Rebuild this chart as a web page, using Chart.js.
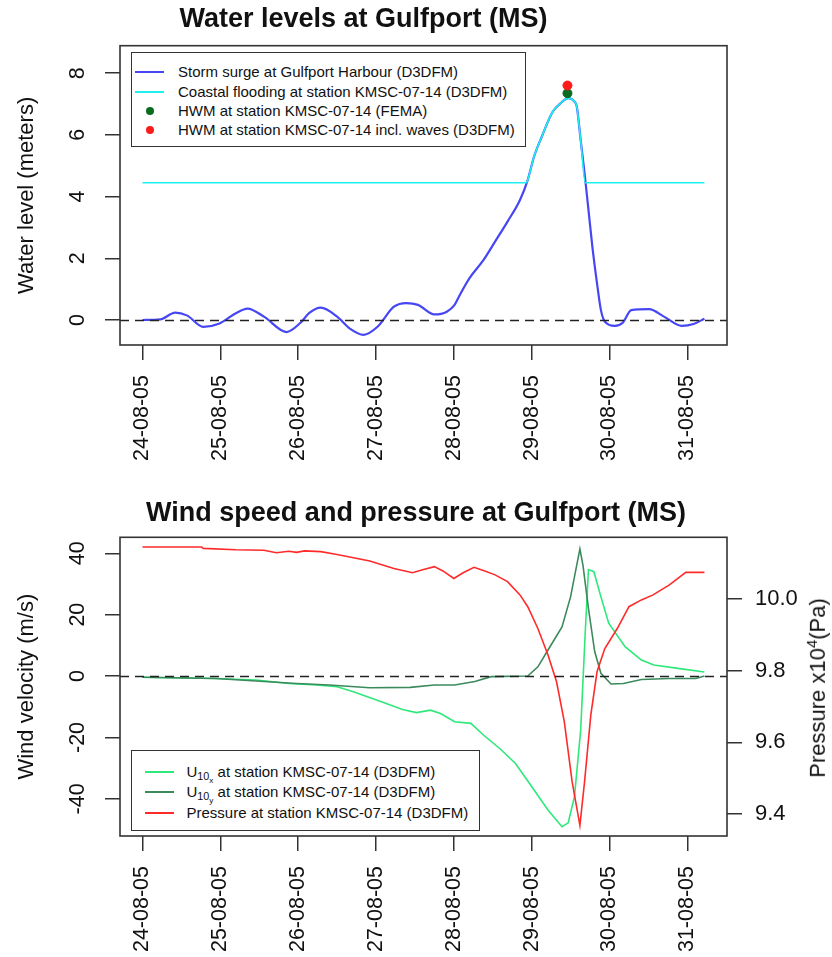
<!DOCTYPE html>
<html>
<head>
<meta charset="utf-8">
<title>Water levels and wind at Gulfport (MS)</title>
<script src="https://cdn.jsdelivr.net/npm/chart.js@4.4.1/dist/chart.umd.min.js"></script>
<style>
  body { margin: 0; background: #fff; font-family: "Liberation Sans", Arial, sans-serif; color: #111; }
  #page { position: relative; width: 832px; height: 957px; overflow: hidden; }
  .wrap { position: absolute; left: 0; width: 832px; }
  #wrapTop { top: 0; height: 478px; }
  #wrapBottom { top: 478px; height: 479px; }
  canvas { display: block; }
  .legend { position: absolute; background: #fff; border: 1.6px solid #333; box-sizing: border-box; font-size: 15px; }
  .legend .sample { position: absolute; height: 0; border-top: 2px solid; }
  .legend .dot { position: absolute; width: 8px; height: 8px; border-radius: 50%; }
  .legend .text { position: absolute; white-space: nowrap; line-height: 18px; }
  .legend sub { font-size: 0.72em; vertical-align: -0.3em; }
  .legend sub sub { font-size: 0.75em; vertical-align: -0.35em; }
  #pressureTitle { position: absolute; left: 817px; top: 688px; font-size: 22px; white-space: nowrap;
    transform: translate(-50%, -50%) rotate(-90deg); }
  #pressureTitle sup { font-size: 0.68em; vertical-align: 0.55em; }
</style>
</head>
<body>
<div id="page">
  <div class="wrap" id="wrapTop"><canvas id="levelsChart" width="832" height="478"></canvas></div>
  <div class="wrap" id="wrapBottom"><canvas id="windChart" width="832" height="479"></canvas></div>
  <div class="legend" id="legendTop" style="left:131px;top:52px;width:395px;height:95px"></div>
  <div class="legend" id="legendBottom" style="left:131px;top:750px;width:349px;height:81px"></div>
  <div id="pressureTitle">Pressure x10<sup>4</sup>(Pa)</div>
</div>
<script>
// Time axis: days since 24-08-05 00:00
const dateLabels = ['24-08-05', '25-08-05', '26-08-05', '27-08-05', '28-08-05', '29-08-05', '30-08-05', '31-08-05'];
const dayTicks = [0, 1, 2, 3, 4, 5, 6, 7];

// Top panel: water levels (m)
const levelTicks = [0, 2, 4, 6, 8];
const surgeDays = [0, 0.23, 0.42, 0.57, 0.78, 0.99, 1.2, 1.35, 1.56, 1.85, 2.03, 2.14, 2.29, 2.5, 2.66, 2.84,
  3.02, 3.23, 3.39, 3.54, 3.75, 3.91, 4.01, 4.07, 4.2, 4.38, 4.53, 4.69, 4.85, 4.95, 5.03, 5.13, 5.27, 5.37,
  5.47, 5.55, 5.58, 5.63, 5.68, 5.73, 5.78, 5.84, 5.89, 5.94, 6.07, 6.17, 6.28, 6.51, 6.7, 6.93, 7.08, 7.22];
const surgeLevels = [0, 0.02, 0.24, 0.15, -0.22, -0.11, 0.22, 0.37, 0.11, -0.39, -0.09, 0.22, 0.4, 0.11, -0.27, -0.48,
  -0.22, 0.43, 0.55, 0.49, 0.18, 0.27, 0.49, 0.78, 1.35, 1.94, 2.54, 3.19, 3.89, 4.54, 5.29, 5.94, 6.75, 7.02,
  7.19, 7.08, 6.92, 5.83, 4.75, 3.57, 2.38, 1.19, 0.32, -0.05, -0.19, -0.09, 0.32, 0.35, 0.11, -0.19, -0.13, 0.04];
const coastDays = [0, 4.93, 4.95, 5.03, 5.13, 5.27, 5.37, 5.47, 5.55, 5.58, 5.63, 5.69, 7.22];
const coastLevels = [4.45, 4.45, 4.54, 5.29, 5.94, 6.75, 7.02, 7.19, 7.08, 6.92, 5.83, 4.45, 4.45];
const hwmFemaDays = [5.46];
const hwmFemaLevels = [7.35];
const hwmWavesDays = [5.46];
const hwmWavesLevels = [7.6];

// Bottom panel: wind (m/s) and pressure (x10^4 Pa)
const windTicks = [-40, -20, 0, 20, 40];
const pressureTicks = [9.4, 9.6, 9.8, 10.0];
const u10xDays = [0, 0.94, 1.46, 1.88, 2.24, 2.5, 2.71, 3.07, 3.34, 3.52, 3.7, 3.83, 4.01, 4.22, 4.38, 4.59, 4.79,
  5.0, 5.21, 5.39, 5.47, 5.55, 5.63, 5.69, 5.73, 5.8, 5.89, 5.99, 6.2, 6.41, 6.57, 6.88, 7.22];
const u10x = [-0.4, -0.8, -1.3, -2.4, -2.9, -3.5, -5.1, -8.4, -10.9, -11.9, -11.1, -12.2, -14.9, -15.4, -19.2, -23.6, -28.4,
  -36, -43.6, -49.1, -47.8, -39.3, -17.6, 15, 34.7, 34, 25.8, 17.2, 9.6, 5.2, 3.6, 2.5, 1.3];
const u10yDays = [0, 0.94, 1.98, 2.4, 2.92, 3.44, 3.75, 4.01, 4.27, 4.48, 4.95, 5.08, 5.21, 5.39, 5.5, 5.62, 5.66,
  5.73, 5.81, 5.89, 6.02, 6.18, 6.41, 6.77, 7.11, 7.22];
const u10y = [-0.4, -0.8, -2.4, -2.9, -3.8, -3.7, -2.9, -2.9, -1.8, -0.2, 0, 3, 8.5, 16, 25.8, 41.4, 36,
  22, 8, 0.9, -2.6, -2.4, -1.1, -0.8, -0.8, 0];
const pressureDays = [0, 0.76, 0.78, 1.2, 1.56, 1.72, 1.88, 1.98, 2.08, 2.29, 2.5, 2.71, 2.92, 3.23, 3.47, 3.6, 3.75,
  3.86, 4.0, 4.12, 4.26, 4.38, 4.53, 4.69, 4.85, 4.95, 5.08, 5.21, 5.32, 5.42, 5.52, 5.62, 5.68, 5.76, 5.84, 5.94,
  6.1, 6.25, 6.41, 6.56, 6.77, 6.98, 7.22];
const pressure = [10.146, 10.146, 10.142, 10.138, 10.137, 10.130, 10.134, 10.131, 10.135, 10.133, 10.125, 10.116, 10.107,
  10.086, 10.074, 10.082, 10.091, 10.079, 10.058, 10.074, 10.089, 10.080, 10.068, 10.049, 10.012, 9.979, 9.918, 9.844,
  9.769, 9.657, 9.49, 9.368, 9.49, 9.676, 9.797, 9.862, 9.918, 9.979, 9.998, 10.012, 10.04, 10.075, 10.075];

const FONT = '"Liberation Sans", Arial, sans-serif';
const INK = '#111111';
const AXIS = '#333333';

const pts = (xs, ys) => xs.map((x, i) => ({ x, y: ys[i] }));

// Frame box, dashed zero line and rotated left tick labels (R style)
const rFrame = {
  id: 'rFrame',
  afterDatasetsDraw(chart, args, opts) {
    const { ctx, chartArea: a } = chart;
    const ys = chart.scales.y;
    ctx.save();
    ctx.strokeStyle = '#222';
    ctx.lineWidth = 1.6;
    ctx.setLineDash([9, 6]);
    const y0 = Math.round(ys.getPixelForValue(0)) + 0.5;
    ctx.beginPath();
    ctx.moveTo(a.left, y0);
    ctx.lineTo(a.right, y0);
    ctx.stroke();
    ctx.restore();
  },
  afterDraw(chart, args, opts) {
    const { ctx, chartArea: a } = chart;
    const ys = chart.scales.y;
    ctx.save();
    ctx.strokeStyle = AXIS;
    ctx.lineWidth = 1.6;
    ctx.strokeRect(a.left, a.top, a.right - a.left, a.bottom - a.top);
    ctx.fillStyle = INK;
    ctx.font = '21.5px ' + FONT;
    ctx.textAlign = 'center';
    ctx.textBaseline = 'middle';
    ys.ticks.forEach((t) => {
      ctx.save();
      ctx.translate(opts.labelX, ys.getPixelForValue(t.value));
      ctx.rotate(-Math.PI / 2);
      ctx.fillText(String(t.value), 0, 0);
      ctx.restore();
    });
    ctx.restore();
  }
};

function timeAxis(height) {
  return {
    type: 'linear',
    min: -0.289,
    max: 7.51,
    afterBuildTicks: (scale) => { scale.ticks = dayTicks.map((v) => ({ value: v })); },
    afterFit: (scale) => { scale.height = height; },
    grid: { drawOnChartArea: false, drawTicks: true, tickLength: 15, color: AXIS, lineWidth: 1.5 },
    border: { display: false },
    ticks: {
      minRotation: 90,
      maxRotation: 90,
      padding: 15,
      color: INK,
      font: { family: FONT, size: 21.5 },
      callback: (v) => dateLabels[v]
    }
  };
}

function leftAxis(min, max, tickValues, title) {
  return {
    type: 'linear',
    position: 'left',
    min,
    max,
    afterBuildTicks: (scale) => { scale.ticks = tickValues.map((v) => ({ value: v })); },
    afterFit: (scale) => { scale.width = 120; },
    grid: { drawOnChartArea: false, drawTicks: true, tickLength: 15, color: AXIS, lineWidth: 1.5 },
    border: { display: false },
    ticks: { display: false },
    title: {
      display: true,
      text: title,
      color: INK,
      font: { family: FONT, size: 22, lineHeight: 1.2 },
      padding: { top: 14, bottom: 0 }
    }
  };
}

function chartTitle(text, top, bottom) {
  return {
    display: true,
    text,
    color: INK,
    font: { family: FONT, size: 27, weight: 'bold', lineHeight: 1.2 },
    padding: { top, bottom }
  };
}

function lineSet(label, data, color, width, extra) {
  return Object.assign({
    type: 'line',
    label,
    data,
    borderColor: color,
    backgroundColor: color,
    borderWidth: width,
    pointRadius: 0,
    fill: false,
    tension: 0
  }, extra || {});
}

const levelsChart = new Chart(document.getElementById('levelsChart'), {
  type: 'line',
  data: {
    datasets: [
      lineSet('Storm surge at Gulfport Harbour (D3DFM)', pts(surgeDays, surgeLevels), '#4646f5', 2.2,
        { cubicInterpolationMode: 'monotone', order: 3 }),
      lineSet('Coastal flooding at station KMSC-07-14 (D3DFM)', pts(coastDays, coastLevels), '#1ef0f0', 1.6,
        { cubicInterpolationMode: 'monotone', order: 2 }),
      { type: 'scatter', label: 'HWM at station KMSC-07-14 (FEMA)', data: pts(hwmFemaDays, hwmFemaLevels),
        pointRadius: 4.5, pointBackgroundColor: '#0b6b1e', pointBorderColor: '#0b6b1e', showLine: false, order: 1 },
      { type: 'scatter', label: 'HWM at station KMSC-07-14 incl. waves (D3DFM)', data: pts(hwmWavesDays, hwmWavesLevels),
        pointRadius: 4.5, pointBackgroundColor: '#ff1a1a', pointBorderColor: '#ff1a1a', showLine: false, order: 0 }
    ]
  },
  options: {
    responsive: false,
    animation: false,
    layout: { padding: { left: 0, right: 105, top: 0, bottom: 0 } },
    plugins: {
      legend: { display: false },
      tooltip: { enabled: false },
      title: chartTitle('Water levels at Gulfport (MS)', 3.5, 9.8),
      rFrame: { labelX: 78 }
    },
    scales: {
      x: timeAxis(133),
      y: leftAxis(-0.81, 8.89, levelTicks, 'Water level (meters)')
    }
  },
  plugins: [rFrame]
});

const windChart = new Chart(document.getElementById('windChart'), {
  type: 'line',
  data: {
    datasets: [
      lineSet('U10x at station KMSC-07-14 (D3DFM)', pts(u10xDays, u10x), '#2ee87a', 1.6, { yAxisID: 'y', order: 2 }),
      lineSet('U10y at station KMSC-07-14 (D3DFM)', pts(u10yDays, u10y), '#3b8a5c', 1.6, { yAxisID: 'y', order: 1 }),
      lineSet('Pressure at station KMSC-07-14 (D3DFM)', pts(pressureDays, pressure), '#ff2a2a', 1.6, { yAxisID: 'y2', order: 0 })
    ]
  },
  options: {
    responsive: false,
    animation: false,
    layout: { padding: 0 },
    plugins: {
      legend: { display: false },
      tooltip: { enabled: false },
      title: chartTitle('Wind speed and pressure at Gulfport (MS)', 19.8, 7.1),
      rFrame: { labelX: 78 }
    },
    scales: {
      x: timeAxis(121),
      y: leftAxis(-52.1, 45.2, windTicks, 'Wind velocity (m/s)'),
      y2: {
        type: 'linear',
        position: 'right',
        min: 9.338,
        max: 10.173,
        afterBuildTicks: (scale) => { scale.ticks = pressureTicks.map((v) => ({ value: v })); },
        afterFit: (scale) => { scale.width = 105; },
        grid: { drawOnChartArea: false, drawTicks: true, tickLength: 15, color: AXIS, lineWidth: 1.5 },
        border: { display: false },
        ticks: {
          padding: 13,
          color: INK,
          font: { family: FONT, size: 22 },
          callback: (v) => Number(v).toFixed(1)
        }
      }
    }
  },
  plugins: [rFrame]
});

// HTML legends built from the chart datasets (R-style boxes inside the plot)
function buildLegend(chart, el, cfg) {
  chart.data.datasets.forEach((ds, i) => {
    const cy = cfg.rows[i];
    const color = ds.type === 'scatter' ? ds.pointBackgroundColor : ds.borderColor;
    if (ds.type === 'scatter') {
      const d = document.createElement('span');
      d.className = 'dot';
      d.style.left = (cfg.dotX - 4) + 'px';
      d.style.top = (cy - 4) + 'px';
      d.style.background = color;
      el.appendChild(d);
    } else {
      const s = document.createElement('span');
      s.className = 'sample';
      s.style.left = cfg.lineX[0] + 'px';
      s.style.width = (cfg.lineX[1] - cfg.lineX[0]) + 'px';
      s.style.top = (cy - 1) + 'px';
      s.style.borderTopColor = color;
      el.appendChild(s);
    }
    const t = document.createElement('span');
    t.className = 'text';
    t.style.left = cfg.textX + 'px';
    t.style.top = (cy - 9) + 'px';
    t.innerHTML = ds.label.replace(/^U10([xy])/, 'U<sub>10<sub>$1</sub></sub>');
    el.appendChild(t);
  });
}

buildLegend(levelsChart, document.getElementById('legendTop'),
  { rows: [19, 38.5, 58, 77], lineX: [3, 32], dotX: 17.5, textX: 46 });
buildLegend(windChart, document.getElementById('legendBottom'),
  { rows: [20.5, 40.5, 61.5], lineX: [13, 42], textX: 54.5 });
</script>
</body>
</html>
